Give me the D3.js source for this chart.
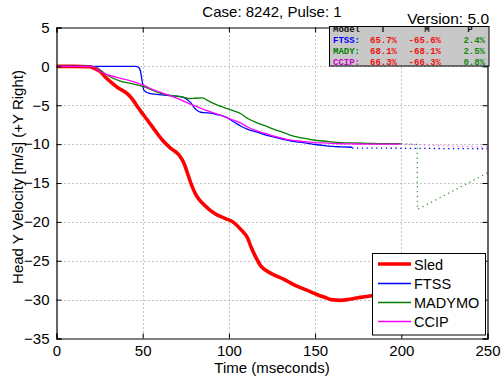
<!DOCTYPE html>
<html><head><meta charset="utf-8">
<script src="https://cdn.jsdelivr.net/npm/d3@7"></script>
<style>body{margin:0;background:#fff}svg{display:block}</style>
</head><body>
<script>
// ---- data ----
const xTicks = [0, 50, 100, 150, 200, 250];
const yTicks = [5, 0, -5, -10, -15, -20, -25, -30, -35];

const sledT = [0,10,19,22,25.6,28,31.4,35.3,41,44,47,50,52.7,57,61.5,66.3,71.1,74,76,77.9,80.8,85.6,91.5,98.3,102.2,107,110.9,112.8,115.5,118.6,122.7,127,132,137,141.9,146.5,151.7,155.5,159.3,165.1,170,175,180,182.6,190,200];
const sledV = [0,0,-0.05,-0.25,-0.7,-1.3,-2.0,-2.7,-3.5,-4.2,-5.2,-6.1,-6.9,-8.2,-9.5,-10.55,-11.4,-12.5,-13.75,-15.0,-16.5,-17.8,-18.9,-19.6,-20.0,-21.0,-22.1,-23.2,-24.5,-25.7,-26.4,-26.9,-27.4,-28.0,-28.5,-28.9,-29.4,-29.7,-30.0,-30.1,-29.95,-29.75,-29.6,-29.5,-29.2,-28.9];

const ftssT = [0,20,40,46,47.5,48.7,49.6,50.6,52,54.5,58,62.4,67,72.1,76,78,79.8,81.8,83.7,86,89.5,93,95.3,98,101.2,104,107,111,116.7,121,126.3,131,136,141,145.8,150,155.4,160,165,171.5];
const ftssV = [0,0,0,0,-0.1,-0.6,-1.8,-3.0,-3.3,-3.5,-3.6,-3.7,-3.8,-3.9,-4.3,-4.7,-5.3,-5.7,-5.9,-5.95,-6.0,-6.2,-6.3,-6.5,-6.9,-7.3,-7.7,-8.1,-8.5,-8.8,-9.1,-9.35,-9.6,-9.75,-9.9,-10.05,-10.2,-10.3,-10.35,-10.4];
const ftssExtT = [171.5, 250];
const ftssExtV = [-10.5, -10.6];

const madyT = [0,20,23,26,30,37,43,50.8,56,62.4,67,72.1,77.9,80,84.7,87,89.5,93,97.3,101.2,107,110.9,115,120.5,125,130.2,135,140,145,149.6,155,159.3,165,171,180,190,200];
const madyV = [0,0,-0.1,-0.6,-1.2,-1.9,-2.2,-2.65,-3.1,-3.6,-3.75,-3.9,-4.15,-4.1,-4.05,-4.3,-4.6,-4.95,-5.3,-5.6,-6.1,-6.7,-7.15,-7.6,-8.0,-8.4,-8.8,-9.1,-9.3,-9.5,-9.6,-9.7,-9.8,-9.85,-9.9,-9.95,-9.95];
const madyExtT = [200, 209.2, 209.4, 250];
const madyExtV = [-9.95, -10.05, -18.4, -13.7];

const ccipT = [0,20,23,25.6,30,37.2,43,48.8,50.8,55,60.5,62.4,67,72.1,77,81.8,86,91.5,96,101.2,107,110.9,115,120.5,125,130.2,135,140,145,149.6,155,159.3,165,171,180,190,199];
const ccipV = [0,0,-0.2,-0.7,-1.1,-1.55,-1.85,-2.3,-2.45,-2.9,-3.35,-3.5,-3.85,-4.3,-4.8,-5.2,-5.6,-6.0,-6.35,-6.8,-7.3,-7.8,-8.2,-8.6,-8.9,-9.2,-9.45,-9.6,-9.72,-9.8,-9.85,-9.9,-9.95,-9.97,-10.0,-10.0,-10.0];
const ccipExtT = [199, 250];
const ccipExtV = [-10.0, -10.4];

const statModels = ["FTSS:", "MADY:", "CCIP:"];
const statT = ["65.7%", "68.1%", "66.3%"];
const statM = ["-65.6%", "-68.1%", "-66.3%"];
const statP = ["2.4%", "2.5%", "0.8%"];

const seriesNames = ["Sled", "FTSS", "MADYMO", "CCIP"];
const seriesColors = ["#ff0000", "#0000ff", "#008000", "#ff00ff"];

// ---- chart ----
const W = 502, H = 381;
const sans = "Arial, 'Liberation Sans', sans-serif";
const mono = "'Courier New', 'Liberation Mono', 'DejaVu Sans Mono', monospace";
const svg = d3.select("body").append("svg").attr("width", W).attr("height", H).style("font-family", sans);
const x = d3.scaleLinear().domain([0, 250]).range([56.5, 487.5]);
const y = d3.scaleLinear().domain([-35, 5]).range([338.5, 27.5]);
const L = x(0), R = x(250), T = y(5), B = y(-35);

// grid
const grid = svg.append("g").attr("stroke", "#888").attr("stroke-width", 1).attr("stroke-dasharray", "1,3");
xTicks.filter(d => d > 0 && d < 250).forEach(d => {
  grid.append("line").attr("x1", Math.round(x(d)) + 0.5).attr("x2", Math.round(x(d)) + 0.5).attr("y1", T).attr("y2", B);
});
yTicks.filter(d => d < 5 && d > -35).forEach(d => {
  grid.append("line").attr("y1", Math.round(y(d)) + 0.5).attr("y2", Math.round(y(d)) + 0.5).attr("x1", L).attr("x2", R);
});

// clip
svg.append("clipPath").attr("id", "plotclip").append("rect").attr("x", L).attr("y", T).attr("width", R - L).attr("height", B - T);
const plot = svg.append("g").attr("clip-path", "url(#plotclip)");

const zip = (ts, vs) => ts.map((t, i) => [t, vs[i]]);
const line = d3.line().x(d => x(d[0])).y(d => y(d[1])).curve(d3.curveMonotoneX);
const lineLin = d3.line().x(d => x(d[0])).y(d => y(d[1]));

plot.append("path").attr("d", line(zip(sledT, sledV))).attr("fill", "none").attr("stroke", seriesColors[0]).attr("stroke-width", 3.6).attr("stroke-linejoin", "round");
plot.append("path").attr("d", line(zip(ftssT, ftssV))).attr("fill", "none").attr("stroke", seriesColors[1]).attr("stroke-width", 1.3);
plot.append("path").attr("d", line(zip(madyT, madyV))).attr("fill", "none").attr("stroke", seriesColors[2]).attr("stroke-width", 1.3);
plot.append("path").attr("d", line(zip(ccipT, ccipV))).attr("fill", "none").attr("stroke", seriesColors[3]).attr("stroke-width", 1.3);

plot.append("path").attr("d", lineLin(zip(ftssExtT, ftssExtV))).attr("fill", "none").attr("stroke", seriesColors[1]).attr("stroke-width", 1.3).attr("stroke-dasharray", "1.3,3.5");
plot.append("path").attr("d", lineLin(zip(ccipExtT, ccipExtV))).attr("fill", "none").attr("stroke", "#ff66ff").attr("stroke-width", 1.3).attr("stroke-dasharray", "1.3,3.5");
plot.append("path").attr("d", lineLin(zip(madyExtT, madyExtV))).attr("fill", "none").attr("stroke", "#3a9a3a").attr("stroke-width", 1.3).attr("stroke-dasharray", "1.3,3.5");

// axes (box with inward ticks)
const gB = svg.append("g").attr("transform", `translate(0,${B})`)
  .call(d3.axisBottom(x).tickValues(xTicks).tickSize(-5).tickPadding(7).tickFormat(d3.format("d")));
const gT = svg.append("g").attr("transform", `translate(0,${T})`)
  .call(d3.axisTop(x).tickValues(xTicks).tickSize(-5).tickFormat(""));
const gL = svg.append("g").attr("transform", `translate(${L},0)`)
  .call(d3.axisLeft(y).tickValues(yTicks).tickSize(-5).tickPadding(7).tickFormat(d3.format("d")));
const gR = svg.append("g").attr("transform", `translate(${R},0)`)
  .call(d3.axisRight(y).tickValues(yTicks).tickSize(-5).tickFormat(""));
[gB, gT, gL, gR].forEach(g => {
  g.select(".domain").attr("stroke", "#000").attr("stroke-width", 1.2);
  g.selectAll(".tick line").attr("stroke", "#000");
  g.selectAll("text").attr("font-size", "15px").attr("fill", "#000").style("font-family", sans);
});
gB.selectAll(".tick text").attr("dy", "0.71em");

// labels
svg.append("text").attr("x", (L + R) / 2).attr("y", 373).attr("text-anchor", "middle").attr("font-size", "15px").text("Time (mseconds)");
svg.append("text").attr("transform", `translate(23,${(T + B) / 2 - 6}) rotate(-90)`).attr("text-anchor", "middle").attr("font-size", "15px").text("Head Y Velocity [m/s] (+Y Right)");
svg.append("text").attr("x", (L + R) / 2).attr("y", 17).attr("text-anchor", "middle").attr("font-size", "15px").text("Case: 8242, Pulse: 1");
svg.append("text").attr("x", 489).attr("y", 23.5).attr("text-anchor", "end").attr("font-size", "15.5px").text("Version: 5.0");

// stats box
const bx = 329.5, by = 26.5, bw = 159.5, bh = 39.5;
svg.append("clipPath").attr("id", "boxclip").append("rect").attr("x", bx).attr("y", by + 0.5).attr("width", bw).attr("height", bh);
svg.append("rect").attr("x", bx).attr("y", by).attr("width", bw).attr("height", bh).attr("fill", "#c8c8c8").attr("stroke", "#000").attr("stroke-width", 1);
const sg = svg.append("g").attr("clip-path", "url(#boxclip)").style("font-family", mono).attr("font-size", "9px").attr("font-weight", "bold");
const hdr = [["Model", 333, "start"], ["T", 383, "middle"], ["M", 427, "middle"], ["P", 470, "middle"]];
hdr.forEach(h => sg.append("text").attr("x", h[1]).attr("y", 31.5).attr("fill", "#111").attr("text-anchor", h[2]).text(h[0]));
const rowY = [43, 54, 64.5];
const labelColors = [seriesColors[1], seriesColors[2], "#cc00cc"];
statModels.forEach((m, i) => {
  sg.append("text").attr("x", 333).attr("y", rowY[i]).attr("fill", labelColors[i]).text(m);
  sg.append("text").attr("x", 397).attr("y", rowY[i]).attr("fill", "#ee1111").attr("text-anchor", "end").text(statT[i]);
  sg.append("text").attr("x", 441).attr("y", rowY[i]).attr("fill", "#ee1111").attr("text-anchor", "end").text(statM[i]);
  sg.append("text").attr("x", 485).attr("y", rowY[i]).attr("fill", "#118811").attr("text-anchor", "end").text(statP[i]);
});

// legend
const lg = svg.append("g");
lg.append("rect").attr("x", 372.5).attr("y", 253.5).attr("width", 113).attr("height", 81.5).attr("fill", "#fff").attr("stroke", "#000").attr("stroke-width", 1);
const legY = [264, 283.5, 302.5, 321.5];
const legW = [3.6, 1.3, 1.3, 1.3];
seriesNames.forEach((n, i) => {
  lg.append("line").attr("x1", 378).attr("x2", 411).attr("y1", legY[i]).attr("y2", legY[i]).attr("stroke", seriesColors[i]).attr("stroke-width", legW[i]);
  lg.append("text").attr("x", 414).attr("y", legY[i] + 5.5).attr("font-size", "14.5px").text(n);
});
</script>
</body></html>
